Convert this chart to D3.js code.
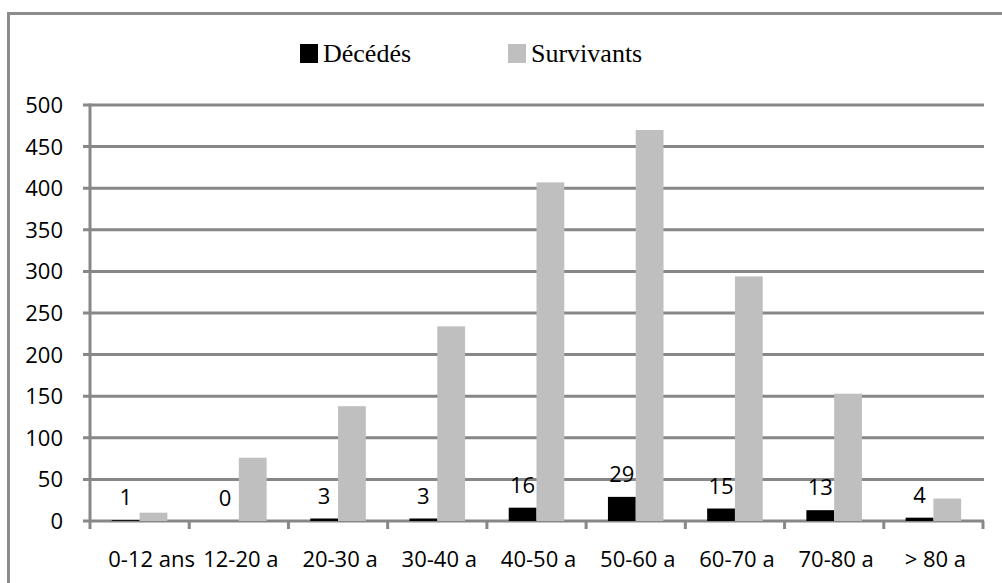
<!DOCTYPE html>
<html lang="fr">
<head>
<meta charset="UTF-8">
<title>Décédés / Survivants par âge</title>
<script src="https://d3js.org/d3.v7.min.js"></script>
<style>
  body { margin: 0; background: #fff; }
  svg { display: block; }
  .tick-label { font-family: "Open Sans", sans-serif; font-size: 22px; fill: #000; }
  .legend-label { font-family: "Liberation Serif", "Times New Roman", serif; font-size: 26px; fill: #000; }
</style>
</head>
<body>
<div id="chart"></div>
<script>
  const categories = ["0-12 ans", "12-20 a", "20-30 a", "30-40 a", "40-50 a", "50-60 a", "60-70 a", "70-80 a", "> 80 a"];
  const decedes = [1, 0, 3, 3, 16, 29, 15, 13, 4];
  const survivants = [10, 76, 138, 234, 407, 470, 294, 153, 27];
  const yTicks = [0, 50, 100, 150, 200, 250, 300, 350, 400, 450, 500];
  const seriesNames = ["Décédés", "Survivants"];
  const seriesColors = ["#000000", "#bfbfbf"];

  const width = 1002, height = 583;
  const plot = {left: 90, right: 983, top: 105, bottom: 521};
  const gridColor = "#878787";

  const svg = d3.select("#chart").append("svg")
      .attr("width", width)
      .attr("height", height);

  // outer frame (only top and left edges visible)
  svg.append("path")
     .attr("d", `M8.5,${height} L8.5,13.5 L${width},13.5`)
     .attr("fill", "none")
     .attr("stroke", "#8c8c8c")
     .attr("stroke-width", 3);

  const x = d3.scaleBand().domain(categories).range([plot.left, plot.right]).padding(0);
  const y = d3.scaleLinear().domain([0, 500]).range([plot.bottom, plot.top]);
  const barW = x.bandwidth() * 0.28;

  // gridlines + y tick marks
  svg.append("g").selectAll("line")
     .data(yTicks)
     .enter().append("line")
     .attr("x1", plot.left - 7)
     .attr("x2", plot.right + 1)
     .attr("y1", d => y(d))
     .attr("y2", d => y(d))
     .attr("stroke", gridColor)
     .attr("stroke-width", 3);

  svg.append("g").selectAll("text")
     .data(yTicks)
     .enter().append("text")
     .attr("class", "tick-label")
     .attr("x", 63)
     .attr("y", d => y(d))
     .attr("dy", "0.36em")
     .attr("text-anchor", "end")
     .text(d => d);

  // bars
  const groups = svg.append("g").selectAll("g")
     .data(categories)
     .enter().append("g");

  groups.append("rect")
     .attr("x", d => x(d) + x.bandwidth() / 2 - barW)
     .attr("y", (d, i) => y(decedes[i]))
     .attr("width", barW)
     .attr("height", (d, i) => y(0) - y(decedes[i]))
     .attr("fill", seriesColors[0]);

  groups.append("rect")
     .attr("x", d => x(d) + x.bandwidth() / 2)
     .attr("y", (d, i) => y(survivants[i]))
     .attr("width", barW)
     .attr("height", (d, i) => y(0) - y(survivants[i]))
     .attr("fill", seriesColors[1]);

  // data labels for Décédés
  groups.append("text")
     .attr("class", "tick-label")
     .attr("x", d => x(d) + x.bandwidth() / 2 - barW / 2)
     .attr("y", (d, i) => y(decedes[i]) - 15)
     .attr("text-anchor", "middle")
     .text((d, i) => decedes[i]);

  // axes
  svg.append("line")
     .attr("x1", plot.left).attr("x2", plot.left)
     .attr("y1", plot.top - 1.5).attr("y2", plot.bottom)
     .attr("stroke", gridColor).attr("stroke-width", 3);

  const bounds = categories.map(c => x(c)).concat([x(categories[categories.length - 1]) + x.bandwidth()]);
  svg.append("g").selectAll("line")
     .data(bounds)
     .enter().append("line")
     .attr("x1", d => d).attr("x2", d => d)
     .attr("y1", plot.bottom).attr("y2", plot.bottom + 8)
     .attr("stroke", gridColor).attr("stroke-width", 3);

  svg.append("g").selectAll("text")
     .data(categories)
     .enter().append("text")
     .attr("class", "tick-label")
     .attr("x", (d, i) => x(d) + x.bandwidth() / 2 + (i === 0 ? 12 : 2))
     .attr("y", 567)
     .attr("text-anchor", "middle")
     .text(d => d);

  // legend
  const legendX = [300, 508];
  const legend = svg.append("g").selectAll("g")
     .data(seriesNames)
     .enter().append("g")
     .attr("transform", (d, i) => `translate(${legendX[i]},44)`);

  legend.append("rect")
     .attr("width", 18).attr("height", 19)
     .attr("fill", (d, i) => seriesColors[i]);

  legend.append("text")
     .attr("class", "legend-label")
     .attr("x", 23)
     .attr("y", 18)
     .text(d => d);
</script>
</body>
</html>
